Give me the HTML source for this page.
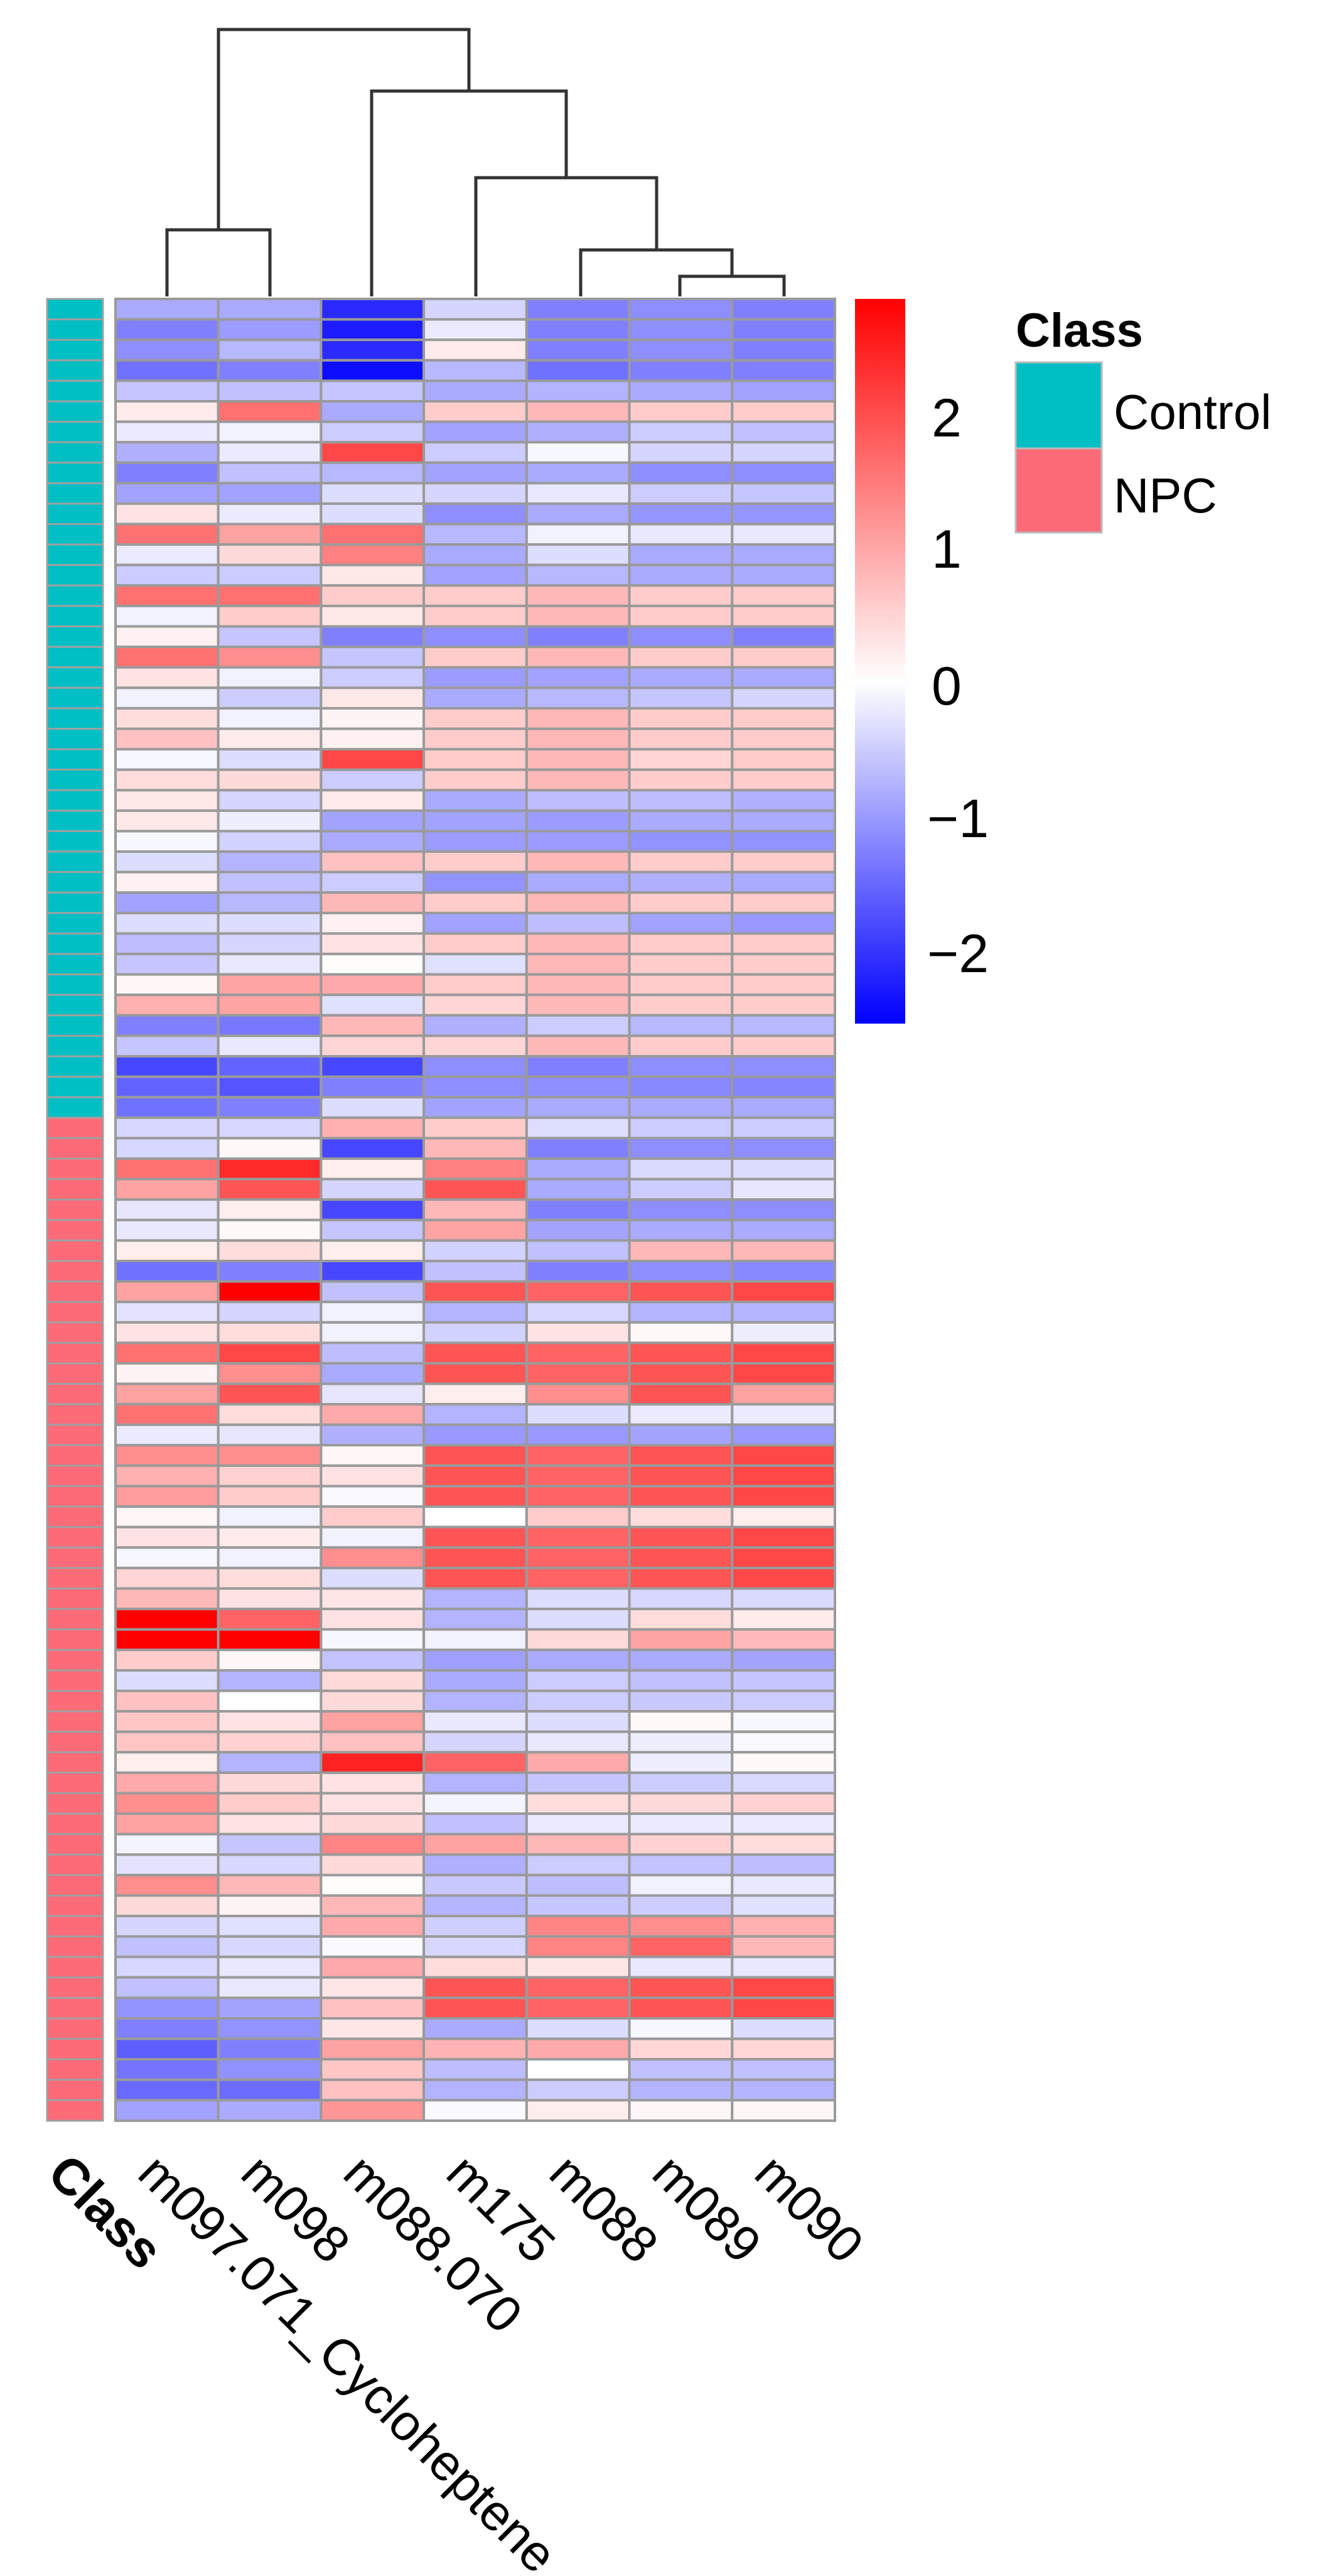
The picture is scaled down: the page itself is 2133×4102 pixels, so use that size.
<!DOCTYPE html>
<html><head><meta charset="utf-8"><style>
html,body{margin:0;padding:0;background:#fff;}
svg{display:block;}
text{font-family:"Liberation Sans",Arial,sans-serif;fill:#000;}
</style></head><body>
<svg id="s" width="2133" height="4102" viewBox="0 0 2133 4102" xmlns="http://www.w3.org/2000/svg">
<defs>
<linearGradient id="cb" x1="0" y1="0" x2="0" y2="1">
<stop offset="0" stop-color="#ff0000"/>
<stop offset="0.528" stop-color="#ffffff"/>
<stop offset="1" stop-color="#0000ff"/>
</linearGradient>
</defs>
<g id="hm"></g>
<g stroke="#333" stroke-width="5" fill="none">
<polyline points="1083,472 1083,440 1249,440 1249,472"/>
<polyline points="925,472 925,398 1166,398 1166,440"/>
<polyline points="758,472 758,283 1046,283 1046,398"/>
<polyline points="592,472 592,145 902,145 902,283"/>
<polyline points="266,472 266,366 430,366 430,472"/>
<polyline points="348,366 348,47 747,47 747,145"/>
</g>
<rect x="1362" y="476" width="80" height="1154" fill="url(#cb)"/>
<g font-size="86">
<text x="1484" y="695">2</text>
<text x="1484" y="904">1</text>
<text x="1484" y="1122">0</text>
<text x="1477" y="1333">−1</text>
<text x="1477" y="1548">−2</text>
</g>
<text x="1618" y="552" font-size="76" font-weight="bold">Class</text>
<rect x="1618" y="577" width="137" height="137" fill="#00bfc4" stroke="#bbb" stroke-width="3"/>
<rect x="1618" y="714" width="137" height="134" fill="#fd6a78" stroke="#bbb" stroke-width="3"/>
<text x="1774" y="683" font-size="78">Control</text>
<text x="1774" y="816" font-size="78">NPC</text>
<g font-size="81">
<text x="72" y="3465" font-weight="bold" transform="rotate(45 72 3465)">Class</text>
<text x="216" y="3465" transform="rotate(45 216 3465)">m097.071_Cycloheptene</text>
<text x="380" y="3465" transform="rotate(45 380 3465)">m098</text>
<text x="543" y="3465" transform="rotate(45 543 3465)">m088.070</text>
<text x="707" y="3465" transform="rotate(45 707 3465)">m175</text>
<text x="871" y="3465" transform="rotate(45 871 3465)">m088</text>
<text x="1035" y="3465" transform="rotate(45 1035 3465)">m089</text>
<text x="1198" y="3465" transform="rotate(45 1198 3465)">m090</text>
</g>
</svg>
<script>
(function(){
var R=[
[-3,-3,-7.5,-1.5,-4.5,-4,-4.5],
[-4.5,-3.5,-8,-0.7,-4.5,-4,-4.5],
[-4,-2.5,-7.5,0.7,-4.5,-4,-4.5],
[-5,-4.5,-8.5,-2.5,-5,-4.5,-4.5],
[-2,-2.2,-2,-3,-2.7,-3,-3.3],
[0.7,5,-3,1.8,2.5,1.8,1.8],
[-0.7,-0.5,-1.8,-3.3,-2.8,-1.8,-2.2],
[-2.8,-0.7,6.5,-1.8,-0.3,-1.5,-1.5],
[-4.5,-2.2,-2.5,-3.3,-3,-4,-4],
[-3.3,-3.3,-1.2,-1.5,-0.8,-1.8,-2],
[1,-0.7,-1.2,-4,-3,-3.7,-3.7],
[5,3.3,5,-2.5,-0.5,-0.8,-0.8],
[-0.7,1.3,4.5,-3,-1.2,-3,-3],
[-1.8,-1.8,0.8,-3.3,-2.5,-3,-3],
[5,5,1.8,1.8,2.5,1.8,1.8],
[-0.5,1.8,0.8,1.8,2.5,1.8,1.8],
[0.5,-2,-4.5,-4,-4.5,-4,-4.5],
[5,4,-2,1.8,2.5,1.8,1.8],
[1,-0.5,-1.8,-3.5,-3.3,-3,-3],
[-0.5,-1.8,0.8,-3,-2.5,-2,-1.5],
[1.2,-0.5,0.4,1.8,2.5,1.8,1.8],
[2.2,0.7,0.5,1.8,2.5,1.8,1.8],
[-0.3,-1.2,6.5,1.8,2.5,1.5,1.8],
[1.2,1.3,-1.8,1.8,2.5,1.8,1.8],
[0.8,-1.5,0.7,-3,-2.3,-2.3,-2.8],
[0.8,-0.6,-3.3,-3.3,-3.5,-3,-3],
[-0.3,-1.6,-3,-3.5,-3.5,-3.8,-3.8],
[-1.2,-2.6,2.2,1.8,2.5,1.8,1.8],
[0.5,-2.2,-1.8,-3.8,-3,-2.8,-3],
[-3.3,-2.5,2.5,1.8,2.5,1.8,1.8],
[-1.2,-1.2,0.5,-3.3,-2.3,-3.3,-3.6],
[-2.3,-1.5,1,1.8,2.5,1.8,1.8],
[-2,-0.8,0.1,-1.1,2.5,1.8,1.8],
[0.3,3.2,3,1.8,2.5,1.8,1.8],
[2.8,3.2,-1.1,1.5,2.5,1.8,1.8],
[-4.5,-4.8,2.5,-2.8,-1.8,-2.5,-2.5],
[-2,-0.8,1.5,1.5,2.5,1.8,1.8],
[-6.5,-5.5,-6.5,-4,-4.5,-4,-4],
[-5.5,-6,-4.5,-4,-4,-4.2,-4.3],
[-5,-4.5,-1.2,-3.3,-3,-3,-3],
[-1.4,-1.4,2.8,1.8,-1.2,-1.8,-1.8],
[-1.4,0.2,-6.5,2.5,-4.5,-4,-4],
[5,7.5,0.6,4.5,-3,-1.3,-1.2],
[3.3,6,-1.5,6,-3,-1.8,-0.9],
[-0.9,0.6,-6.5,2.5,-4.5,-4,-4],
[-0.8,0.2,-2,3.2,-3.2,-3,-3],
[0.6,1.2,0.6,-1.6,-2.2,2.5,2.5],
[-5,-4.5,-6.5,-2.2,-4.5,-4,-4.2],
[3.3,9,-2.2,6,5.5,6,6.5],
[-1,-1.5,-0.5,-2.7,-1.4,-2.7,-2.7],
[1,1.2,-0.5,-1.6,1,0.2,-0.6],
[5,6.5,-2.3,6,5.5,6,6.5],
[0.4,4,-3,6,5.5,6,6.5],
[3.3,6,-0.9,0.6,4,6,3.3],
[5,1.2,3,-2.7,-1.2,-0.7,-0.7],
[-0.7,-0.9,-2.8,-3.6,-3.6,-3.2,-3.6],
[4,4,0.3,6,5.5,6,6.5],
[2.8,1.6,1,6,5.5,6,6.5],
[3.5,1.8,-0.2,6,5.5,6,6.5],
[0.3,-0.5,1.8,0,1.8,1.2,0.6],
[1,0.7,-0.5,6,5.5,6,6.5],
[-0.3,-0.5,4,6,5.5,6,6.5],
[1.5,1.2,-1.2,6,5.5,6,6.5],
[2.5,1,0.9,-2.7,-1.2,-1.4,-1.3],
[9,5.5,1,-2.7,-1.2,1.2,0.7],
[9,9,-0.3,-0.5,1.3,3.2,2.4],
[1.8,0.3,-2.1,-3.4,-3,-3,-3.2],
[-1.2,-2.7,1.3,-3,-1.8,-2.2,-2],
[2.2,0,1.3,-2.7,-1.8,-1.9,-1.8],
[2,1,3.3,-0.8,-1.2,0.2,-0.3],
[2,1.6,2.2,-1.5,-0.8,-0.6,-0.2],
[0.6,-2.7,7.8,5.5,3,-0.6,0.2],
[3,1.3,1,-2.7,-2,-1.8,-1.3],
[4,1.8,1,-0.4,1.2,1.3,1.6],
[3.3,1,1.3,-2.2,-0.7,-0.7,-0.7],
[-0.4,-2,4.3,3.3,2.5,1.6,1.2],
[-1,-1.4,1.3,-2.8,-1.8,-2.1,-2.3],
[4,2.5,0.1,-1.9,-2.3,-0.5,-0.8],
[1.3,0.4,2.5,-2.6,-2,-1.8,-1.1],
[-1.5,-1.1,3,-1.7,4.3,4,2.8],
[-2.2,-1.4,-0.2,-1.4,4.3,5.5,2.5],
[-1.4,-0.8,3,1.2,0.9,-0.8,-0.8],
[-2.2,-0.8,0.9,6,5.5,6,6.5],
[-3.8,-3.2,2.2,6,5.5,6,6.5],
[-4.5,-3.8,0.9,-3,-1.2,-0.3,-1.2],
[-5.7,-4.5,3.3,2.7,3,1.4,1.4],
[-4.9,-3.9,2,-2.3,0,-2.2,-2.2],
[-5.3,-5.2,2.2,-2.7,-1.8,-2.6,-2.6],
[-3.3,-3,3.7,-0.2,0.6,0.3,0.3]
];
function col(v){var t=Math.min(1,Math.abs(v)/9);var c=Math.round(255*(1-t));
return v>=0?'rgb(255,'+c+','+c+')':'rgb('+c+','+c+',255)';}
var NS='http://www.w3.org/2000/svg';
var g=document.getElementById('hm');
function rect(x,y,w,h,f,sc,sw){var r=document.createElementNS(NS,'rect');
r.setAttribute('x',x.toFixed(1));r.setAttribute('y',y.toFixed(1));
r.setAttribute('width',w.toFixed(1));r.setAttribute('height',h.toFixed(1));
r.setAttribute('fill',f);r.setAttribute('stroke',sc);r.setAttribute('stroke-width',sw);g.appendChild(r);}
var y0=476,y1=3377,N=R.length,h=(y1-y0)/N,x0=184,x1=1330,w=(x1-x0)/7;
for(var i=0;i<N;i++){var y=y0+i*h;
rect(75,y,89,h,i<40?'#00bfc4':'#fd6a78','#a0a0a0',3);
for(var j=0;j<7;j++){rect(x0+j*w,y,w,h,col(R[i][j]),'#9a9a9a',4);}}
})();
</script>
</body></html>
